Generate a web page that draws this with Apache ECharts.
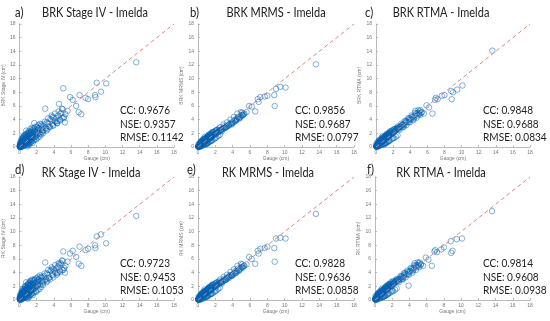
<!DOCTYPE html>
<html><head><meta charset="utf-8">
<script src="https://cdn.jsdelivr.net/npm/echarts@6/dist/echarts.min.js"></script>
<style>html,body{margin:0;padding:0;background:#fff}#c{width:550px;height:321px}</style>
</head><body><div id="c"></div>
<script>
// ---- data (cm) ----
const gauge = [
0.03,0.05,0.07,0.1,0.12,0.14,0.17,0.19,0.21,0.24,0.26,0.28,0.31,0.33,0.36,0.38,0.4,0.43,0.45,0.47,0.5,0.52,0.55,0.57,0.6,0.08,0.15,0.22,0.3,0.42,
0.62,0.65,0.68,0.71,0.74,0.77,0.8,0.83,0.86,0.9,0.93,0.96,1.0,1.04,1.08,1.12,1.16,1.2,1.25,1.3,1.34,1.38,1.42,1.46,1.5,
1.55,1.6,1.66,1.72,1.78,1.85,1.92,2.0,2.1,2.2,2.32,2.45,
2.6,2.8,3.0,3.1,3.3,3.5,3.7,3.9,4.1,4.3,4.4,4.6,4.8,5.0,5.1,5.3,
5.6,5.9,6.2,6.6,6.9,7.0,7.2,7.7,8.0,8.8,8.85,9.0,9.5,10.1,
13.6,
0.02,0.04,0.06,0.09,0.11,0.13,0.16,0.18,0.2,0.23,0.25,0.27,0.29,0.32,0.34,0.37,0.39,0.41,0.44,0.46,0.49,0.51,0.54,0.56,0.59,0.61,0.64,0.67,0.7,0.72,0.76,0.79,0.82,0.85,0.88,0.92,0.95,0.99,1.02,1.06,1.1,1.14,1.18,1.22,1.28,1.33,1.4,1.48,1.58,1.7,
1.8,1.95,2.05,2.15,2.25,2.4,2.55,2.7,2.9,3.05,3.2,3.4,3.6,3.8,4.0,4.2,4.5,4.7,4.9,5.2,
0.06,0.11,0.16,0.2,0.27,0.31,0.35,0.42,0.46,0.5,0.56,0.61,0.66,0.7,0.77,0.81,0.86,0.9,0.97,1.01,1.07,1.12,1.16,1.21,1.26,1.32,1.37,1.41,1.47,1.52,1.61,1.69,1.81,1.9,2.02,2.12,2.19,2.33,2.41,2.52,0.29,0.63,0.94,1.23,1.55,0.39,0.78,1.09,1.64,1.98,
2.55,2.75,2.95,3.15,3.35,3.55,3.75,3.95,4.15,4.35,4.55,4.75,4.95,5.15,5.35,2.65,3.25,3.85,4.45,5.05];
const brkStageIV = [
0.05,0.2,0.1,0.0,0.3,0.15,0.4,0.1,0.5,0.2,0.35,0.6,0.25,0.7,0.4,0.2,0.8,0.5,0.3,1.0,0.6,1.6,0.9,0.7,0.5,0.02,0.05,0.12,0.9,1.3,
0.5,0.9,0.7,1.2,0.6,1.0,1.5,0.8,1.1,0.7,1.3,1.9,0.9,1.2,1.6,0.8,1.4,2.1,1.0,1.5,1.8,1.2,2.4,1.6,1.3,
1.9,1.4,2.2,3.5,2.6,1.5,2.0,2.3,1.8,2.7,2.1,2.5,
2.9,2.4,5.6,2.7,3.4,3.0,3.9,3.2,3.8,4.2,3.5,6.3,4.9,4.3,8.6,3.6,
5.3,7.3,6.9,6.0,5.1,7.6,4.8,7.2,7.0,7.6,7.3,9.4,8.1,9.3,
12.4,
0.1,0.3,0.0,0.2,0.5,0.1,0.4,0.7,0.2,0.05,0.6,0.3,0.9,0.15,0.5,0.8,0.3,1.1,0.6,0.2,0.9,0.4,1.2,0.7,0.3,1.0,0.5,1.4,0.8,0.6,1.2,0.9,0.5,1.6,1.0,0.7,1.3,1.1,2.0,0.8,1.5,1.2,1.0,1.8,1.3,2.2,1.1,1.7,2.0,1.4,
2.3,1.7,2.5,2.0,2.8,1.9,3.1,2.5,3.3,2.8,3.6,3.0,4.1,3.4,4.3,3.7,4.6,4.0,5.0,4.4,
0.6,0.0,0.9,0.3,1.2,0.05,1.0,0.2,1.5,0.3,1.3,0.2,1.7,0.4,1.9,0.3,1.6,0.5,2.1,0.4,2.3,0.6,1.9,0.5,2.6,0.7,2.2,0.8,2.8,0.9,2.5,1.0,2.9,1.2,3.0,1.4,3.2,1.5,3.4,1.8,0.7,1.8,0.1,2.0,0.6,1.4,2.4,0.3,2.7,1.1,
3.3,2.0,3.7,2.4,4.2,2.9,4.6,3.1,4.9,3.5,5.2,3.9,5.6,4.2,4.8,2.2,2.6,4.4,3.8,5.5];
const brkMRMS = [
0.04,0.1,0.08,0.15,0.2,0.12,0.3,0.25,0.35,0.2,0.4,0.45,0.3,0.5,0.4,0.45,0.6,0.5,0.55,0.7,0.6,0.5,0.8,0.65,0.7,0.06,0.1,0.25,0.45,0.6,
0.6,0.8,0.75,0.9,0.7,1.0,1.1,0.85,1.0,1.2,0.95,1.3,1.1,1.2,1.4,1.0,1.5,1.6,1.2,1.5,1.7,1.3,1.9,1.5,1.4,
1.8,1.5,2.0,1.7,2.2,1.9,1.8,2.3,2.0,2.5,2.2,2.4,
2.5,2.6,3.0,2.8,3.0,3.2,3.4,3.3,3.6,4.0,3.9,4.4,4.2,4.6,5.0,4.8,
5.1,6.0,5.9,5.2,7.0,6.6,7.3,7.4,7.5,7.6,6.0,8.5,8.8,8.7,
12.1,
0.03,0.08,0.1,0.12,0.15,0.2,0.18,0.25,0.28,0.3,0.32,0.3,0.38,0.36,0.42,0.45,0.4,0.5,0.48,0.52,0.55,0.5,0.6,0.62,0.58,0.68,0.65,0.72,0.7,0.8,0.75,0.85,0.8,0.9,0.95,0.9,1.0,1.05,1.1,1.0,1.15,1.2,1.25,1.2,1.35,1.3,1.4,1.5,1.6,1.65,
1.8,1.9,2.0,2.1,2.1,2.3,2.4,2.5,2.7,2.8,2.9,3.1,3.3,3.4,3.6,3.8,4.1,4.3,4.4,4.7,
0.4,0.0,0.5,0.05,0.7,0.1,0.8,0.15,0.9,0.2,1.0,0.3,1.1,0.35,1.2,0.4,1.3,0.5,1.4,0.55,1.5,0.6,1.6,0.7,1.7,0.75,1.8,0.85,1.9,0.9,2.1,1.0,2.2,1.2,2.4,1.4,2.5,1.6,2.7,1.8,0.6,1.2,0.4,1.8,0.9,0.9,1.5,0.5,2.2,1.3,
2.9,2.3,3.3,2.8,3.6,3.1,4.0,3.5,4.4,3.8,4.9,4.2,5.1,4.6,4.9,2.4,2.9,3.6,4.1,4.7];
const brkRTMA = [
0.1,0.05,0.2,0.12,0.25,0.3,0.2,0.35,0.3,0.45,0.35,0.4,0.5,0.45,0.6,0.5,0.55,0.7,0.6,0.8,0.65,0.7,0.9,0.75,0.8,0.15,0.2,0.3,0.5,0.55,
0.7,0.8,0.9,0.75,1.0,0.9,1.1,1.0,1.2,0.95,1.3,1.1,1.5,1.2,1.3,1.6,1.4,1.3,1.7,1.5,1.4,1.8,1.6,2.0,1.7,
1.7,2.0,1.8,2.1,1.9,2.4,2.0,2.2,2.6,2.3,2.5,2.7,
2.7,3.0,2.9,3.3,3.2,3.8,3.6,4.2,4.0,4.4,4.1,5.3,4.6,4.9,5.2,5.0,
4.9,6.1,5.8,4.9,6.9,7.2,7.0,7.5,7.6,8.2,7.0,8.0,8.4,9.0,
14.1,
0.08,0.12,0.1,0.18,0.2,0.22,0.25,0.3,0.28,0.35,0.33,0.4,0.38,0.45,0.42,0.5,0.48,0.55,0.52,0.6,0.58,0.65,0.62,0.7,0.68,0.75,0.72,0.8,0.78,0.88,0.85,0.95,0.9,1.0,1.05,1.0,1.1,1.15,1.2,1.25,1.3,1.25,1.4,1.35,1.5,1.45,1.6,1.7,1.75,1.9,
1.9,2.1,2.2,2.3,2.4,2.6,2.7,2.9,3.0,3.2,3.3,3.6,3.7,4.0,4.1,4.4,4.6,4.9,5.0,5.4,
0.5,0.0,0.6,0.1,0.8,0.1,0.9,0.2,1.0,0.25,1.1,0.3,1.2,0.35,1.3,0.4,1.4,0.5,1.5,0.5,1.6,0.6,1.7,0.65,1.8,0.7,1.9,0.8,2.0,0.9,2.2,1.0,2.3,1.2,2.5,1.3,2.6,1.5,2.8,1.7,0.7,1.3,0.4,1.9,0.9,1.0,1.6,0.5,2.3,1.3,
3.0,2.5,3.4,2.9,3.8,3.2,4.2,3.6,4.6,3.9,5.0,4.3,5.4,4.7,5.1,2.6,3.0,3.7,4.3,4.8];
const rkStageIV = [
0.1,0.25,0.05,0.3,0.15,0.5,0.2,0.6,0.35,0.45,0.7,0.3,0.8,0.5,0.9,0.4,0.6,1.1,0.5,0.8,1.3,0.6,1.0,0.7,0.9,0.02,0.4,0.15,1.0,0.7,
0.6,1.1,0.8,1.4,0.7,1.2,1.7,0.9,1.3,1.0,1.6,2.2,1.1,1.5,2.0,1.0,1.8,2.6,1.3,1.7,2.3,1.5,2.8,1.9,1.6,
2.2,1.6,2.5,2.0,2.9,1.8,2.4,2.6,2.1,3.0,2.4,2.8,
3.2,2.7,5.5,3.0,3.7,3.3,4.3,3.6,4.2,4.6,3.9,5.2,5.4,4.4,7.1,4.0,
5.6,6.8,7.2,6.3,5.3,7.8,5.0,7.3,7.5,8.0,7.6,9.3,9.6,8.3,
12.3,
0.2,0.4,0.1,0.3,0.6,0.2,0.5,0.8,0.3,0.15,0.7,0.4,1.0,0.3,0.6,0.9,0.4,1.2,0.7,0.3,1.0,0.5,1.4,0.8,0.4,1.1,0.7,1.6,0.9,0.7,1.4,1.0,0.6,1.8,1.1,0.9,1.5,1.2,2.2,1.0,1.7,1.4,1.2,2.0,1.5,2.4,1.3,1.9,2.3,1.7,
2.5,2.0,2.7,2.3,3.0,2.2,3.3,2.8,3.5,3.0,3.9,3.2,4.3,3.7,4.5,4.0,4.9,4.3,5.2,4.7,
0.7,0.05,1.0,0.3,1.3,0.1,1.2,0.25,1.6,0.35,1.5,0.3,1.9,0.45,2.1,0.4,1.8,0.55,2.3,0.5,2.5,0.7,2.1,0.6,2.8,0.8,2.4,0.9,3.0,1.0,2.7,1.1,3.1,1.3,3.2,1.5,3.4,1.6,3.6,1.9,0.9,2.0,0.2,2.2,0.7,1.6,2.6,0.4,2.9,1.2,
3.4,2.2,3.9,2.6,4.4,3.0,4.8,3.3,5.1,3.7,5.4,4.1,5.8,4.4,5.0,2.4,2.8,4.6,4.0,5.7];
const rkMRMS = [
0.05,0.12,0.1,0.18,0.22,0.15,0.33,0.28,0.38,0.25,0.43,0.5,0.35,0.55,0.45,0.48,0.65,0.55,0.6,0.75,0.65,0.55,0.85,0.7,0.75,0.08,0.14,0.28,0.5,0.65,
0.7,0.85,0.8,1.0,0.75,1.1,1.2,0.9,1.1,1.3,1.0,1.4,1.2,1.3,1.5,1.1,1.6,1.7,1.3,1.6,1.8,1.4,2.0,1.6,1.5,
1.9,1.6,2.1,1.8,2.3,2.0,1.9,2.4,2.1,2.6,2.3,2.5,
2.6,2.7,3.1,2.9,3.2,3.4,3.6,3.5,3.8,4.2,4.0,4.6,4.4,4.8,5.2,5.0,
5.2,6.3,6.0,5.3,7.2,6.8,7.5,7.6,7.8,7.6,5.6,9.0,9.1,9.0,
12.6,
0.05,0.1,0.12,0.15,0.18,0.22,0.2,0.28,0.3,0.32,0.35,0.33,0.4,0.4,0.45,0.48,0.44,0.55,0.52,0.56,0.6,0.55,0.66,0.66,0.63,0.72,0.7,0.76,0.75,0.85,0.8,0.9,0.86,0.95,1.0,0.95,1.05,1.1,1.15,1.08,1.2,1.25,1.3,1.25,1.4,1.35,1.45,1.55,1.65,1.75,
1.9,2.0,2.1,2.2,2.2,2.4,2.5,2.6,2.8,2.9,3.0,3.2,3.4,3.5,3.7,3.9,4.2,4.4,4.6,4.9,
0.45,0.0,0.55,0.05,0.75,0.1,0.85,0.15,0.95,0.2,1.05,0.3,1.15,0.35,1.25,0.4,1.35,0.5,1.45,0.55,1.55,0.6,1.65,0.7,1.75,0.75,1.85,0.85,1.95,0.9,2.15,1.0,2.25,1.2,2.45,1.4,2.55,1.6,2.75,1.8,0.65,1.25,0.4,1.85,0.9,0.95,1.55,0.5,2.25,1.3,
3.0,2.4,3.4,2.9,3.7,3.2,4.1,3.6,4.5,3.9,5.0,4.3,5.3,4.7,5.0,2.5,3.0,3.7,4.2,4.8];
const rkRTMA = [
0.12,0.06,0.22,0.14,0.28,0.33,0.22,0.4,0.33,0.5,0.38,0.45,0.55,0.5,0.65,0.55,0.6,0.78,0.65,0.9,0.7,0.75,1.0,0.8,0.85,0.18,0.25,0.35,0.55,0.6,
0.75,0.9,1.0,0.8,1.1,1.0,1.2,1.1,1.35,1.05,1.45,1.2,1.6,1.3,1.4,1.75,1.5,1.4,1.85,1.6,1.5,2.0,1.7,2.2,1.8,
1.8,2.1,1.9,2.3,2.0,2.6,2.1,2.4,2.8,2.4,2.6,2.9,
2.8,3.1,3.0,3.5,3.3,4.0,3.7,2.1,4.2,4.6,4.3,5.4,4.8,5.1,5.4,5.2,
5.0,6.2,5.9,5.0,7.1,7.3,7.0,7.4,7.7,8.6,6.9,7.2,8.9,9.0,
13.0,
0.1,0.14,0.12,0.2,0.22,0.25,0.28,0.33,0.3,0.38,0.36,0.43,0.4,0.48,0.45,0.53,0.5,0.58,0.55,0.63,0.6,0.68,0.65,0.73,0.7,0.78,0.75,0.84,0.82,0.92,0.88,0.98,0.94,1.05,1.1,1.05,1.15,1.2,1.25,1.3,1.36,1.3,1.45,1.4,1.55,1.5,1.65,1.75,1.85,2.0,
2.0,2.2,2.3,2.4,2.5,2.7,2.8,3.0,3.1,3.3,3.4,3.7,3.8,4.1,4.2,4.5,4.7,5.0,5.1,5.5,
0.55,0.0,0.65,0.1,0.85,0.1,0.95,0.2,1.05,0.25,1.15,0.3,1.25,0.35,1.35,0.4,1.45,0.5,1.55,0.5,1.65,0.6,1.75,0.65,1.85,0.7,1.95,0.8,2.05,0.9,2.25,1.0,2.35,1.2,2.55,1.3,2.65,1.5,2.85,1.7,0.75,1.35,0.45,1.95,0.95,1.05,1.65,0.55,2.35,1.35,
3.1,2.6,3.5,3.0,3.9,3.3,4.3,3.7,4.7,4.0,5.1,4.4,5.5,4.8,5.2,2.7,3.1,3.8,4.4,4.9];
const identityLine = [[0,0],[18,18]];
const axisTicks = {min: 0, max: 18, interval: 2};
const panelLetters = ['a)','b)','c)','d)','e)','f)'];
const panelTitles = ['BRK Stage IV - Imelda','BRK MRMS - Imelda','BRK RTMA - Imelda','RK Stage IV - Imelda','RK MRMS - Imelda','RK RTMA - Imelda'];
const yNames = ['BRK Stage IV (cm)','BRK MRMS (cm)','BRK RTMA (cm)','RK Stage IV (cm)','RK MRMS (cm)','RK RTMA (cm)'];
const xName = 'Gauge (cm)';
const ccVals = ['0.9676','0.9856','0.9848','0.9723','0.9828','0.9814'];
const nseVals = ['0.9357','0.9687','0.9688','0.9453','0.9636','0.9608'];
const rmseVals = ['0.1142','0.0797','0.0834','0.1053','0.0858','0.0938'];
const estimates = [brkStageIV, brkMRMS, brkRTMA, rkStageIV, rkMRMS, rkRTMA];

// ---- layout ----
const grids = [
 {left:17, top:24, width:157, height:123},
 {left:198, top:24, width:156, height:123},
 {left:376, top:24, width:154, height:123},
 {left:17, top:177, width:157, height:123},
 {left:198, top:177, width:156, height:123},
 {left:375, top:177, width:155, height:123}
];
const letterPos = [[15,13],[190,13],[365,13],[15,170],[187,170],[367,170]];
const titlePos = [[95,13],[276,13],[441,13],[91,173],[268,173],[441,173]];
const statPos = [[120,110],[295,110],[483,110],[120,263],[295,263],[483,263]];
const FONT = 'Lato';

const xAxes = [], yAxes = [], series = [], graphics = [];
const axisCommon = (name, isY) => ({
  type:'value', min:axisTicks.min, max:axisTicks.max, interval:axisTicks.interval,
  name: name, nameLocation:'middle', nameGap: isY ? 10 : 8,
  nameTextStyle:{fontSize:5, color:'#777', fontFamily:'Liberation Sans'},
  axisLine:{show:true, lineStyle:{color:'#aaa', width:0.8}},
  axisTick:{show:true, inside:true, length:2, lineStyle:{color:'#aaa', width:0.8}},
  axisLabel:{fontSize:5, color:'#777', margin: isY ? 4 : 3, fontFamily:'Liberation Sans'},
  splitLine:{show:false}
});
const txt = (x, y, text, size, align, sx) => ({type:'text', x:x, y:y, scaleX:sx, silent:true,
  style:{text:text, font:size+'px '+FONT, fill:'#222', textAlign:align, textVerticalAlign:'middle', align:align, verticalAlign:'middle'}});
for (let i = 0; i < 6; i++) {
  xAxes.push(Object.assign(axisCommon(xName, false), {gridIndex:i}));
  yAxes.push(Object.assign(axisCommon(yNames[i], true), {gridIndex:i}));
  series.push({
    type:'scatter', xAxisIndex:i, yAxisIndex:i, symbol:'circle', symbolSize:5.5,
    itemStyle:{color:'rgba(0,0,0,0)', borderColor:'rgba(0,98,178,0.62)', borderWidth:1},
    data: gauge.map((g, k) => [g, estimates[i][k]]), silent:true, z:2, large:false
  });
  series.push({
    type:'line', xAxisIndex:i, yAxisIndex:i, data: identityLine, symbol:'none',
    lineStyle:{color:'#e58080', width:1, type:[4,3]}, silent:true, z:3
  });
  graphics.push(txt(letterPos[i][0], letterPos[i][1], panelLetters[i], 12.5, 'left', 0.9));
  graphics.push(txt(titlePos[i][0], titlePos[i][1], panelTitles[i], 12.5, 'center', 0.88));
  const lines = ['CC: '+ccVals[i], 'NSE: '+nseVals[i], 'RMSE: '+rmseVals[i]];
  lines.forEach((t, j) => graphics.push(txt(statPos[i][0], statPos[i][1] + j*13.7, t, 12, 'left', 0.84)));
}
const chart = echarts.init(document.getElementById('c'), null, {renderer:'canvas'});
chart.setOption({
  animation:false, backgroundColor:'#fff',
  grid: grids, xAxis: xAxes, yAxis: yAxes, series: series, graphic: graphics
});
</script></body></html>
